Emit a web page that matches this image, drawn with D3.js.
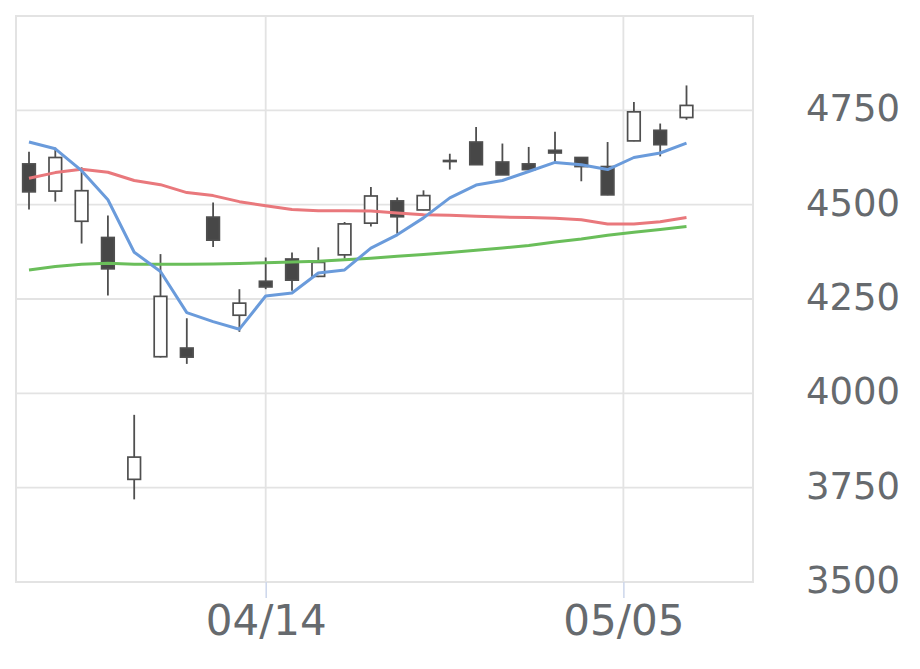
<!DOCTYPE html>
<html><head><meta charset="utf-8">
<script src="https://cdn.jsdelivr.net/npm/d3@7"></script>
<style>
body{margin:0;background:#fff;}
svg{display:block;font-family:"DejaVu Sans",sans-serif;}
</style>
</head><body>
<svg id="chart" width="920" height="669"></svg>
<script>
// ---- data ----
const dates = ["2025-04-01","2025-04-02","2025-04-03","2025-04-04","2025-04-07","2025-04-08","2025-04-09",
  "2025-04-10","2025-04-11","2025-04-14","2025-04-15","2025-04-16","2025-04-17","2025-04-18","2025-04-21",
  "2025-04-22","2025-04-23","2025-04-24","2025-04-25","2025-04-28","2025-04-30","2025-05-01","2025-05-02",
  "2025-05-07","2025-05-08","2025-05-09"];
const openV  = [4608,4536,4456,4413,3772,4097,4120,4467,4207,4297,4356,4310,4367,4451,4510,4486,4616,4666,4613,4608,4644,4625,4601,4669,4697,4731];
const highV  = [4640,4651,4599,4471,3943,4369,4199,4506,4276,4360,4373,4387,4454,4547,4519,4538,4635,4706,4662,4653,4693,4626,4666,4772,4715,4816];
const lowV   = [4487,4508,4397,4259,3719,4095,4078,4388,4163,4276,4272,4308,4357,4442,4423,4485,4593,4606,4579,4591,4613,4562,4525,4668,4628,4725];
const closeV = [4534,4625,4537,4330,3831,4257,4096,4406,4239,4282,4300,4347,4449,4523,4468,4524,4617,4606,4579,4593,4637,4601,4526,4746,4659,4763];
const ma5  = [4666,4648,4590,4513,4374,4323,4214,4190,4170,4258,4266,4319,4327,4385,4420,4465,4518,4552,4564,4588,4612,4606,4593,4625,4637,4663];
const ma25 = [4570,4585,4594,4586,4564,4553,4532,4524,4508,4497,4487,4484,4484,4483,4478,4473,4472,4469,4467,4466,4464,4460,4449,4449,4455,4466];
const ma75 = [4327,4336,4342,4345,4342,4342,4342,4343,4344,4346,4348,4350,4354,4358,4363,4368,4373,4379,4385,4392,4401,4409,4419,4427,4434,4442];
const xTickDates = ["2025-04-14","2025-05-05"];
const yTickValues = [3500,3750,4000,4250,4500,4750];

// ---- layout ----
const svg = d3.select("#chart");
const plot = {left:16, right:753, top:16, bottom:582};
const parse = d3.utcParse("%Y-%m-%d");
const T = dates.map(parse);
const slot = d3.scaleLinear().domain([0, dates.length - 1]).range([29, 686.5]);
const x = d3.scaleUtc().domain(T).range(T.map((d, i) => slot(i)));
const y = d3.scaleLinear().domain([3500, 5000]).range([plot.bottom, plot.top]);

// grid
const grid = svg.append("g");
grid.selectAll("line.h").data(yTickValues.concat([5000])).join("line")
  .attr("x1", plot.left).attr("x2", plot.right)
  .attr("y1", d => y(d)).attr("y2", d => y(d))
  .attr("stroke", "#e3e3e3").attr("stroke-width", 1.8);
grid.selectAll("line.v").data(xTickDates.map(parse)).join("line")
  .attr("x1", d => x(d)).attr("x2", d => x(d))
  .attr("y1", plot.top).attr("y2", plot.bottom)
  .attr("stroke", "#e3e3e3").attr("stroke-width", 1.8);
// frame
svg.append("rect").attr("x", plot.left).attr("y", plot.top)
  .attr("width", plot.right - plot.left).attr("height", plot.bottom - plot.top)
  .attr("fill", "none").attr("stroke", "#e3e3e3").attr("stroke-width", 2);

// x axis
const xAxis = svg.append("g").attr("transform", `translate(0,${plot.bottom})`)
  .call(d3.axisBottom(x).tickValues(xTickDates.map(parse)).tickFormat(d3.utcFormat("%m/%d")).tickSize(16).tickPadding(7));
xAxis.select(".domain").remove();
xAxis.selectAll(".tick line").attr("stroke", "#ccd6eb").attr("stroke-width", 1.5);
xAxis.selectAll(".tick text").attr("fill", "#666a6e").attr("font-size", 42)
  .attr("font-family", "DejaVu Sans").attr("dy", "0.71em");

// y axis (right)
const yAxis = svg.append("g").attr("transform", `translate(${plot.right},0)`)
  .call(d3.axisRight(y).tickValues(yTickValues).tickFormat(d3.format("d")).tickSize(0).tickPadding(53));
yAxis.select(".domain").remove();
yAxis.selectAll(".tick text").attr("fill", "#666a6e").attr("font-size", 37)
  .attr("font-family", "DejaVu Sans").attr("dy", "0.28em");

// candles
const idx = d3.range(dates.length);
const bw = 12.6;
const cg = svg.append("g");
cg.selectAll("line.wick").data(idx).join("line")
  .attr("x1", i => x(T[i])).attr("x2", i => x(T[i]))
  .attr("y1", i => y(highV[i])).attr("y2", i => y(lowV[i]))
  .attr("stroke", "#4f4f4f").attr("stroke-width", 1.8);
cg.selectAll("rect.body").data(idx).join("rect")
  .attr("x", i => x(T[i]) - bw / 2)
  .attr("y", i => y(Math.max(openV[i], closeV[i])))
  .attr("width", bw)
  .attr("height", i => Math.max(1, Math.abs(y(openV[i]) - y(closeV[i]))))
  .attr("fill", i => closeV[i] >= openV[i] ? "#ffffff" : "#474747")
  .attr("stroke", "#4f4f4f").attr("stroke-width", 1.7);

// moving averages
const lineGen = arr => d3.line().x((d, i) => x(T[i])).y(d => y(d))(arr);
[[ma75, "#6abe5a"], [ma25, "#e9787c"], [ma5, "#6a9bdb"]].forEach(([arr, col]) => {
  svg.append("path").attr("d", lineGen(arr)).attr("fill", "none")
    .attr("stroke", col).attr("stroke-width", 3).attr("stroke-linejoin", "round");
});
</script>
</body></html>
